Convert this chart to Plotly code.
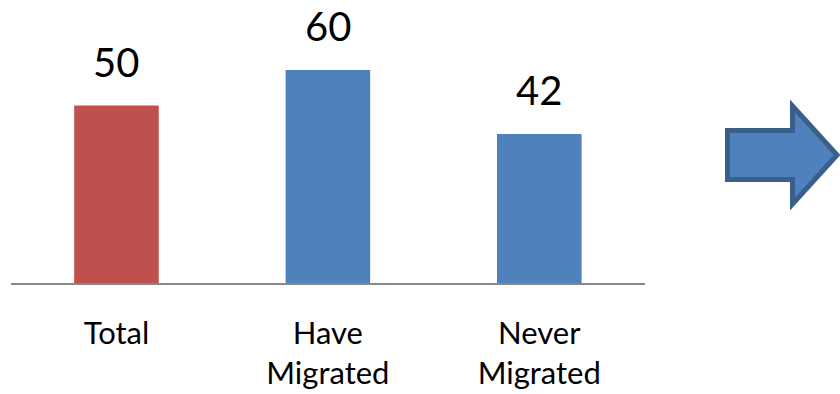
import plotly.graph_objects as go

categories = ["Total", "Have<br>Migrated", "Never<br>Migrated"]
values = [50, 60, 42]
colors = ["#C0504D", "#4F81BD", "#4F81BD"]

W, H = 840, 394

fig = go.Figure()
fig.add_trace(go.Bar(
    x=categories, y=values, marker=dict(color=colors, line=dict(width=0)),
    width=0.4, hoverinfo="skip",
))

for c, v in zip(categories, values):
    fig.add_annotation(
        x=c, y=v, xref="x", yref="y", text=str(v), showarrow=False,
        yanchor="bottom", yshift=18,
        font=dict(family="Lato", size=40, color="#000000"),
    )

# block arrow (pixel coordinates converted to paper)
pts = [(727.5, 130.5), (792.5, 130.5), (792.5, 106), (837, 155),
       (792.5, 204), (792.5, 179.5), (727.5, 179.5)]
path = "M " + " L ".join(f"{x / W:.5f},{1 - y / H:.5f}" for x, y in pts) + " Z"
fig.add_shape(type="path", path=path, xref="paper", yref="paper",
              fillcolor="#4F81BD", line=dict(color="#3A5F8B", width=5))

fig.update_layout(
    width=W, height=H,
    margin=dict(l=0, r=0, t=0, b=0),
    paper_bgcolor="white", plot_bgcolor="white",
    showlegend=False,
    xaxis=dict(domain=[10.75 / W, 645 / W], showline=True, linecolor="#888888",
               linewidth=1.5, ticks="", showgrid=False, zeroline=False,
               tickfont=dict(family="Lato", size=31, color="#000000"),
               ticklabelstandoff=22, automargin=False),
    yaxis=dict(domain=[1 - 283 / H, 1], range=[0, 283 / 3.55], visible=False,
               showgrid=False, zeroline=False, automargin=False),
)

fig.write_html("out.html")
